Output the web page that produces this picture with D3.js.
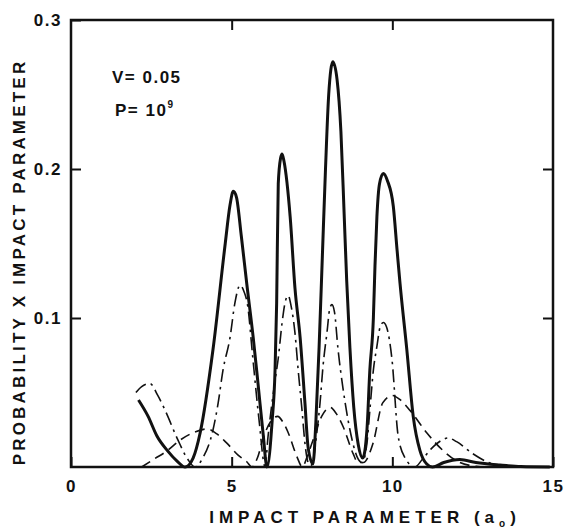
<!DOCTYPE html>
<html>
<head>
<meta charset="utf-8">
<script src="https://cdn.jsdelivr.net/npm/d3@7"></script>
<style>
  body { margin: 0; background: #fff; }
  text { font-family: "Liberation Sans", Arial, sans-serif; font-weight: bold; fill: #111; }
</style>
</head>
<body>
<svg id="chart" width="564" height="529"></svg>
<script>
// solid curve
var solidX = [2.1, 2.4, 2.67, 3.0, 3.3, 3.55, 3.8, 4.02, 4.42, 4.8, 4.95, 5.05, 5.15, 5.3, 5.47, 5.67, 5.82, 5.98, 6.1,
  6.26, 6.35, 6.4, 6.45, 6.52, 6.57, 6.63, 6.82, 6.97, 7.13, 7.28, 7.38, 7.53,
  7.62, 7.72, 7.82, 7.92, 8.02, 8.15, 8.28, 8.4, 8.5, 8.58, 8.68, 8.8, 8.94, 9.08,
  9.21, 9.3, 9.41, 9.46, 9.52, 9.6, 9.72, 9.85, 10.03, 10.15, 10.24, 10.45, 10.65, 10.86, 11.07, 11.25,
  11.6, 12.1, 12.6, 13.35, 14.0, 14.9];
var solidY = [0.045, 0.034, 0.021, 0.011, 0.004, 0.0, 0.006, 0.023, 0.079, 0.150, 0.176, 0.185, 0.181, 0.155, 0.123, 0.087, 0.056, 0.022, 0.0,
  0.031, 0.065, 0.11, 0.19, 0.207, 0.210, 0.205, 0.168, 0.120, 0.087, 0.043, 0.013, 0.002,
  0.03, 0.08, 0.14, 0.20, 0.25, 0.272, 0.26, 0.225, 0.17, 0.125, 0.08, 0.04, 0.015, 0.006,
  0.025, 0.065, 0.10, 0.135, 0.168, 0.19, 0.197, 0.192, 0.175, 0.145, 0.123, 0.079, 0.034, 0.011, 0.002, 0.0,
  0.003, 0.005, 0.003, 0.0013, 0.0003, 0.0];

// dash-dot curve
var dashDotX = [2.02, 2.2, 2.46, 2.7, 2.93, 3.33, 3.64, 3.86, 4.1, 4.42, 4.58, 4.73, 4.95, 5.1, 5.26, 5.38, 5.5, 5.65, 5.85, 6.04,
  6.13, 6.35, 6.45, 6.57, 6.68, 6.76, 6.85, 6.97, 7.07, 7.19, 7.28, 7.38, 7.46,
  7.53, 7.65, 7.75, 7.84, 7.97, 8.05, 8.12, 8.2, 8.31, 8.47, 8.68, 8.9, 9.06,
  9.21, 9.3, 9.41, 9.52, 9.62, 9.72, 9.82, 9.99, 10.18, 10.4, 10.7,
  10.93, 11.2, 11.5, 11.73, 12.0, 12.5, 13.0, 13.35, 14.0];
var dashDotY = [0.050, 0.054, 0.056, 0.048, 0.038, 0.018, 0.005, 0.0, 0.006, 0.025, 0.043, 0.065, 0.087, 0.11, 0.122, 0.118, 0.108, 0.075, 0.032, 0.0,
  0.02, 0.058, 0.073, 0.097, 0.112, 0.115, 0.108, 0.09, 0.065, 0.038, 0.016, 0.003, 0.001,
  0.004, 0.023, 0.043, 0.067, 0.091, 0.106, 0.109, 0.104, 0.079, 0.052, 0.025, 0.007, 0.003,
  0.016, 0.038, 0.065, 0.081, 0.094, 0.097, 0.094, 0.072, 0.021, 0.006, 0.0,
  0.005, 0.012, 0.0175, 0.0195, 0.017, 0.009, 0.003, 0.001, 0.0];

// dashed curve
var dashedX = [2.2, 2.56, 3.0, 3.39, 3.8, 4.23, 4.55, 4.85, 5.2, 5.47, 5.63,
  5.8, 5.99, 6.2, 6.43, 6.6, 6.76, 7.03, 7.2,
  7.35, 7.53, 7.8, 8.06, 8.25, 8.47, 8.78, 8.93, 9.1,
  9.4, 9.7, 10.0, 10.25, 10.55, 11.07, 11.58, 12.1, 12.6, 13.0];
var dashedY = [0.0, 0.005, 0.011, 0.018, 0.023, 0.0255, 0.022, 0.016, 0.008, 0.0035, 0.0,
  0.006, 0.02, 0.03, 0.034, 0.03, 0.023, 0.007, 0.0,
  0.007, 0.018, 0.034, 0.040, 0.036, 0.027, 0.009, 0.003, 0.003,
  0.016, 0.043, 0.048, 0.045, 0.038, 0.023, 0.011, 0.003, 0.0005, 0.0];

var xTicks = [0, 5, 10, 15];
var yTicks = [0.1, 0.2, 0.3];

var svg = d3.select("#chart"),
  MARGINS = { top: 20, right: 11, bottom: 62, left: 71 },
  WIDTH = 564,
  HEIGHT = 529;

var xScale = d3.scaleLinear().domain([0, 15]).range([MARGINS.left, WIDTH - MARGINS.right]);
var yScale = d3.scaleLinear().domain([0, 0.3]).range([HEIGHT - MARGINS.bottom, MARGINS.top]);

function zip(xs, ys) {
  return xs.map(function(v, i) { return [v, ys[i]]; });
}

var lineGen = d3.line()
  .x(function(d) { return xScale(d[0]); })
  .y(function(d) { return yScale(d[1]); })
  .curve(d3.curveMonotoneX);

// curves
svg.append("path")
  .attr("d", lineGen(zip(dashedX, dashedY)))
  .attr("fill", "none").attr("stroke", "#111")
  .attr("stroke-width", 1.6)
  .attr("stroke-dasharray", "10,6");

svg.append("path")
  .attr("d", lineGen(zip(dashDotX, dashDotY)))
  .attr("fill", "none").attr("stroke", "#111")
  .attr("stroke-width", 1.6)
  .attr("stroke-dasharray", "13,5,2.5,5");

svg.append("path")
  .attr("d", lineGen(zip(solidX, solidY)))
  .attr("fill", "none").attr("stroke", "#111")
  .attr("stroke-width", 3)
  .attr("stroke-linejoin", "round");

// axes, ticks pointing inward
var xBottom = d3.axisBottom(xScale).tickValues(xTicks).tickFormat(d3.format("d"))
  .tickSizeInner(-10).tickSizeOuter(0).tickPadding(13);
var xTop = d3.axisTop(xScale).tickValues([5, 10]).tickFormat("")
  .tickSizeInner(-10).tickSizeOuter(0);
var yLeft = d3.axisLeft(yScale).tickValues(yTicks).tickFormat(d3.format(".1f"))
  .tickSizeInner(-10).tickSizeOuter(0).tickPadding(9);
var yRight = d3.axisRight(yScale).tickValues([0.1, 0.2]).tickFormat("")
  .tickSizeInner(-10).tickSizeOuter(0);

function styleAxis(g) {
  g.select(".domain").remove();
  g.selectAll("line").attr("stroke", "#111").attr("stroke-width", 2);
  g.selectAll("text").attr("font-size", 17).attr("letter-spacing", 1.5)
    .attr("font-family", "Liberation Sans, Arial, sans-serif").attr("fill", "#111");
}

svg.append("g").attr("transform", "translate(0," + yScale(0) + ")").call(xBottom).call(styleAxis);
svg.append("g").attr("transform", "translate(0," + yScale(0.3) + ")").call(xTop).call(styleAxis);
svg.append("g").attr("transform", "translate(" + xScale(0) + ",0)").call(yLeft).call(styleAxis);
svg.append("g").attr("transform", "translate(" + xScale(15) + ",0)").call(yRight).call(styleAxis);

// frame
svg.append("rect")
  .attr("x", xScale(0)).attr("y", yScale(0.3))
  .attr("width", xScale(15) - xScale(0)).attr("height", yScale(0) - yScale(0.3))
  .attr("fill", "none").attr("stroke", "#111").attr("stroke-width", 2.5);

// annotations
svg.append("text").attr("x", 112).attr("y", 83).attr("font-size", 17).attr("letter-spacing", 1.5)
  .text("V= 0.05");
var p = svg.append("text").attr("x", 115).attr("y", 116).attr("font-size", 17).attr("letter-spacing", 1.5);
p.append("tspan").text("P= 10");
p.append("tspan").attr("font-size", 10).attr("dy", -8).text("9");

// axis titles
var xt = svg.append("text").attr("x", 365).attr("y", 523).attr("text-anchor", "middle")
  .attr("font-size", 17).attr("letter-spacing", 5);
xt.append("tspan").text("IMPACT PARAMETER (a");
xt.append("tspan").attr("font-size", 10).attr("dy", 4).text("o");
xt.append("tspan").attr("dy", -4).text(")");

svg.append("text")
  .attr("transform", "translate(25,262) rotate(-90)")
  .attr("text-anchor", "middle")
  .attr("font-size", 17).attr("letter-spacing", 3.2)
  .text("PROBABILITY X IMPACT PARAMETER");
</script>
</body>
</html>
